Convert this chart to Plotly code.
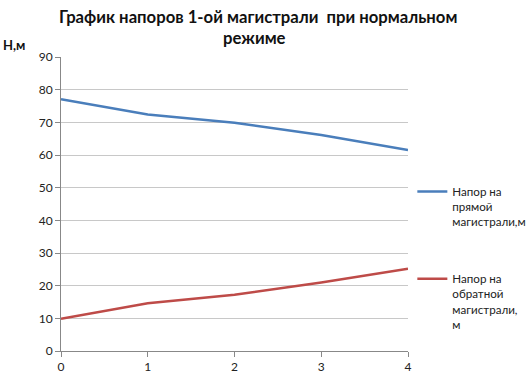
import plotly.graph_objects as go

x_vals = [0, 1, 2, 3, 4]
supply_head = [77.1, 72.4, 69.9, 66.1, 61.5]
return_head = [9.9, 14.6, 17.2, 21.0, 25.2]
supply_name = "Напор на<br>прямой<br>магистрали,м"
return_name = "Напор на<br>обратной<br>магистрали,<br>м"
title_line1 = "График напоров 1-ой магистрали  при нормальном"
title_line2 = "режиме"
y_label = "Н,м"

FONT = "Lato, Open Sans, DejaVu Sans, sans-serif"

fig = go.Figure()
fig.add_trace(go.Scatter(x=x_vals, y=supply_head, mode="lines", name=supply_name,
                         line=dict(color="#4a7ebb", width=2.5), legendgroup="a"))
fig.add_trace(go.Scatter(x=x_vals, y=return_head, mode="lines", name=return_name,
                         line=dict(color="#be4b48", width=2.5), legendgroup="b"))

fig.update_layout(
    width=530, height=373,
    margin=dict(l=61, r=122, t=57, b=22, autoexpand=False),
    paper_bgcolor="white", plot_bgcolor="white",
    font=dict(family=FONT, size=11, color="#222"),
    showlegend=True,
    legend=dict(xref="container", yref="container", x=0.778, xanchor="left",
                y=0.524, yanchor="top",
                valign="top", tracegroupgap=39, traceorder="grouped",
                font=dict(size=11.6, color="#222"), itemwidth=30),
    annotations=[
        dict(text="<b>" + title_line1 + "</b>", xref="paper", yref="paper",
             x=0.568, y=1.178, xanchor="center", yanchor="top", showarrow=False,
             font=dict(size=16.7, color="#111")),
        dict(text="<b>" + title_line2 + "</b>", xref="paper", yref="paper",
             x=0.559, y=1.106, xanchor="center", yanchor="top", showarrow=False,
             font=dict(size=16.7, color="#111")),
        dict(text="<b>" + y_label + "</b>", xref="paper", yref="paper",
             x=-0.172, y=1.075, xanchor="left", yanchor="top",
             showarrow=False, font=dict(size=13, color="#111")),
    ],
)
fig.update_xaxes(range=[0, 4], tickvals=x_vals, showgrid=False, zeroline=False,
                 showline=True, linecolor="#888", linewidth=1,
                 ticks="outside", ticklen=5, tickcolor="#888",
                 tickfont=dict(size=12), automargin=False)
fig.update_yaxes(range=[0, 90], dtick=10, showgrid=True, gridcolor="#c8c8c8",
                 zeroline=False, showline=True, linecolor="#888", linewidth=1,
                 ticks="outside", ticklen=5, tickcolor="#888",
                 tickfont=dict(size=12), automargin=False)

fig.write_html("out.html", config={"displayModeBar": False},
               post_script="document.body.style.margin='0';document.body.style.overflow='hidden';")
